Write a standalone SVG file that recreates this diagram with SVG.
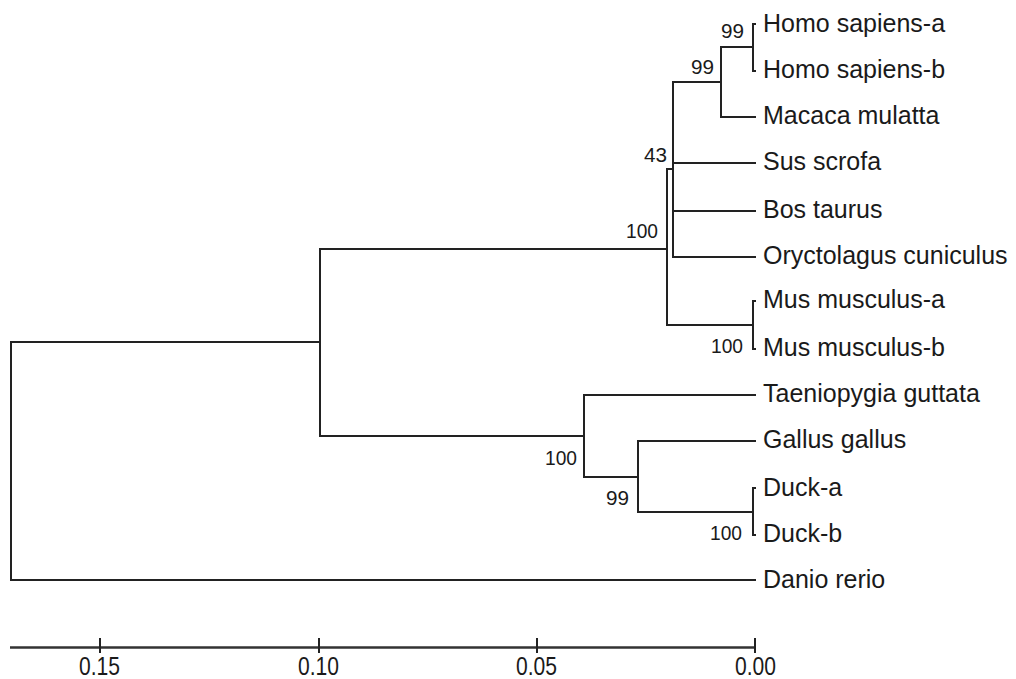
<svg xmlns="http://www.w3.org/2000/svg" width="1016" height="679" viewBox="0 0 1016 679">
<style>
.e{fill:none;stroke:#222;stroke-width:2;stroke-linecap:square}
.t{font-family:"Liberation Sans",Arial,sans-serif;font-size:25px;fill:#1a1a1a}
.s{font-family:"Liberation Sans",Arial,sans-serif;font-size:21px;fill:#1a1a1a;text-anchor:end}
.a{font-family:"Liberation Sans",Arial,sans-serif;font-size:25px;fill:#1a1a1a}
</style>
<rect width="1016" height="679" fill="#fff"/>
<g id="connectors">
<path class="e" d="M11,342V580H755M11,342H320M320,249V436M320,249H667M667,169V325M667,169H673M673,82V257M673,82H721M673,163H755M673,211H755M673,257H755M721,47V117M721,47H753M721,117H755M753,24V71M753,24H755M753,71H755M667,325H753M753,301V349M753,301H755M753,349H755M320,436H584M584,395V477M584,395H755M584,477H638M638,441V512M638,441H755M638,512H753M753,488V535M753,488H755M753,535H755"/>
</g>
<g id="leaves">
<text class="t" x="763" y="32">Homo sapiens-a</text>
<text class="t" x="763" y="78">Homo sapiens-b</text>
<text class="t" x="763" y="124">Macaca mulatta</text>
<text class="t" x="763" y="170">Sus scrofa</text>
<text class="t" x="763" y="218">Bos taurus</text>
<text class="t" x="763" y="264">Oryctolagus cuniculus</text>
<text class="t" x="763" y="308">Mus musculus-a</text>
<text class="t" x="763" y="356">Mus musculus-b</text>
<text class="t" x="763" y="402">Taeniopygia guttata</text>
<text class="t" x="763" y="448">Gallus gallus</text>
<text class="t" x="763" y="496">Duck-a</text>
<text class="t" x="763" y="542">Duck-b</text>
<text class="t" x="763" y="588">Danio rerio</text>
</g>
<g id="support">
<text class="s" x="744" y="38" textLength="23" lengthAdjust="spacingAndGlyphs">99</text>
<text class="s" x="714" y="74" textLength="23" lengthAdjust="spacingAndGlyphs">99</text>
<text class="s" x="667" y="162" textLength="23" lengthAdjust="spacingAndGlyphs">43</text>
<text class="s" x="658" y="238" textLength="32" lengthAdjust="spacingAndGlyphs">100</text>
<text class="s" x="743" y="353" textLength="32" lengthAdjust="spacingAndGlyphs">100</text>
<text class="s" x="577" y="465" textLength="32" lengthAdjust="spacingAndGlyphs">100</text>
<text class="s" x="629" y="505" textLength="23" lengthAdjust="spacingAndGlyphs">99</text>
<text class="s" x="742" y="540" textLength="32" lengthAdjust="spacingAndGlyphs">100</text>
</g>
<g id="scale">
<path d="M10,647.5H755" stroke="#333" stroke-width="2.5" fill="none"/>
<path d="M100,638V653M319,638V653M537,638V653M755,638V653" stroke="#222" stroke-width="2" fill="none"/>
<text class="a" x="79" y="675" textLength="41" lengthAdjust="spacingAndGlyphs">0.15</text>
<text class="a" x="298" y="675" textLength="41" lengthAdjust="spacingAndGlyphs">0.10</text>
<text class="a" x="516" y="675" textLength="41" lengthAdjust="spacingAndGlyphs">0.05</text>
<text class="a" x="735" y="675" textLength="41" lengthAdjust="spacingAndGlyphs">0.00</text>
</g>
</svg>
